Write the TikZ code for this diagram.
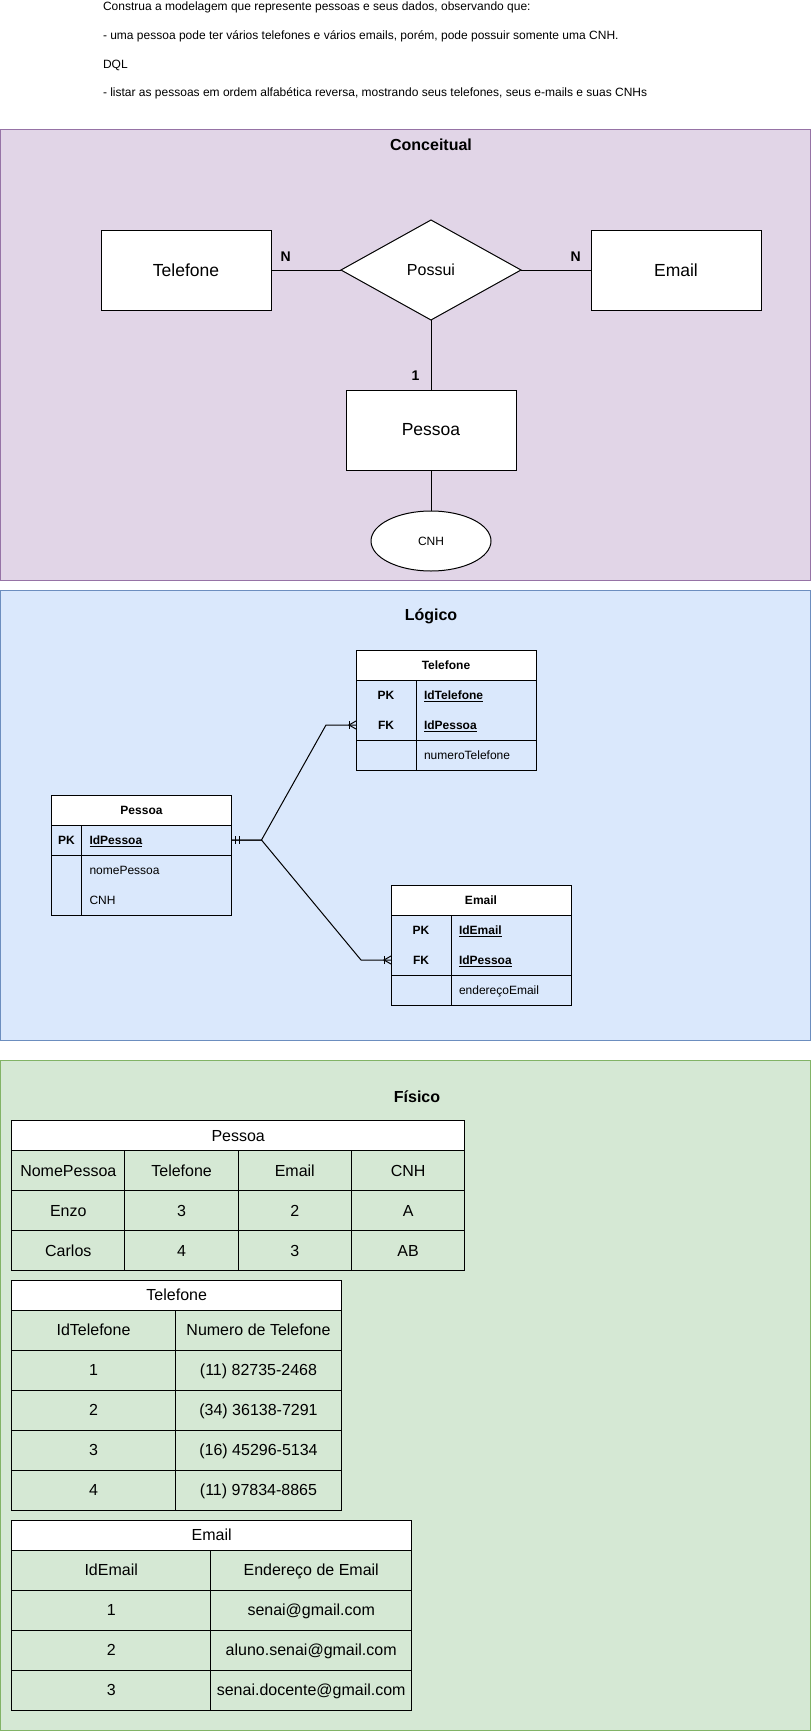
\documentclass[tikz,border=0pt]{standalone}
\usepackage{fontspec}
\setmainfont{Liberation Sans}
\usepackage{tikz}
\usetikzlibrary{calc,shapes.geometric}
\definecolor{concfill}{HTML}{E1D5E7}
\definecolor{concline}{HTML}{9673A6}
\definecolor{logfill}{HTML}{DAE8FC}
\definecolor{logline}{HTML}{6C8EBF}
\definecolor{fisfill}{HTML}{D5E8D4}
\definecolor{fisline}{HTML}{82B366}

\begin{document}
\begin{tikzpicture}[x=1pt, y=-1pt, line width=1pt,
    every node/.style={outer sep=0},
    small/.style={font=\fontsize{12}{14}\selectfont, text height=10.9pt, text depth=2.5pt},
    big/.style={font=\fontsize{16}{19}\selectfont, text height=14.5pt, text depth=3.4pt},
    box/.style={draw, fill=white, minimum width=170pt, minimum height=80pt, inner sep=0, font=\fontsize{17.5}{21}\selectfont},
    rel/.style={draw, fill=white, diamond, minimum width=180pt, minimum height=100pt, inner sep=0, font=\fontsize{16}{19}\selectfont},
    attr/.style={draw, fill=white, ellipse, minimum width=120pt, minimum height=60pt, inner sep=0, font=\fontsize{12}{14}\selectfont},
    card/.style={inner sep=0, font=\bfseries\fontsize{14}{16}\selectfont},
    title/.style={inner sep=0, font=\bfseries\fontsize{16}{19}\selectfont},
    note/.style={anchor=base west, inner sep=0, font=\fontsize{12}{14}\selectfont},
    area/.style={anchor=north west, minimum width=810pt, inner sep=0},
    lhead/.style={draw, fill=white, minimum width=180pt, minimum height=30pt, inner sep=0, small, font=\bfseries\fontsize{12}{14}\selectfont},
    lkey/.style={minimum width=#1, minimum height=30pt, inner sep=0, small, font=\bfseries\fontsize{12}{14}\selectfont},
    lfld/.style={text width=#1, minimum height=30pt, inner xsep=8pt, inner ysep=0, align=left, small},
    fhead/.style={draw, fill=white, minimum width=#1, minimum height=30pt, inner sep=0, big},
    fcell/.style={draw, minimum width=#1, minimum height=40pt, inner sep=0, big}]
    \useasboundingbox (0,0) rectangle (811,1731);

    % Statement of the exercise
    \node[note] (txt1) at (103,11) {Construa a modelagem que represente pessoas e seus dados, observando que:};
    \node[note] (txt2) at (103,39.7) {- uma pessoa pode ter vários telefones e vários emails, porém, pode possuir somente uma CNH.};
    \node[note] (txt3) at (103,68.3) {DQL};
    \node[note] (txt4) at (103,97) {- listar as pessoas em ordem alfabética reversa, mostrando seus telefones, seus e-mails e suas CNHs};

    % Conceptual model
    \node[area, draw=concline, fill=concfill, minimum height=450pt] (conc) at (0.5,130) {};
    \node[title] (tconc) at (431,145) {Conceitual};
    \node[box] (ctel) at (186,270) {Telefone};
    \node[rel] (cpossui) at (431,270) {Possui};
    \node[box] (cemail) at (676,270) {Email};
    \node[box] (cpes) at (431,430) {Pessoa};
    \node[attr] (ccnh) at (431,541) {CNH};
    \draw (ctel) -- (cpossui) node[card, pos=0.21, above=9pt] (ntel) {N};
    \draw (cpossui) -- (cemail) node[card, pos=0.78, above=9pt] (nemail) {N};
    \draw (cpossui) -- (cpes) node[card, pos=0.8, left=11.5pt] (npes) {1};
    \draw (cpes) -- (ccnh);

    % Logical model
    \node[area, draw=logline, fill=logfill, minimum height=450pt] (logi) at (0.5,590) {};
    \node[title] (tlog) at (431,616) {Lógico};

    % Pessoa table
    \node[lhead] (lpes) at (141.5,810) {Pessoa};
    \node[lkey=30pt, anchor=north west] (lpespkk) at (lpes.south west) {PK};
    \node[lfld=134pt, anchor=west] (lpespkf) at (lpespkk.east) {\textbf{\underline{IdPessoa}}};
    \node[lkey=30pt, anchor=north] (lpesnomk) at (lpespkk.south) {};
    \node[lfld=134pt, anchor=west] (lpesnomf) at (lpesnomk.east) {nomePessoa};
    \node[lkey=30pt, anchor=north] (lpescnhk) at (lpesnomk.south) {};
    \node[lfld=134pt, anchor=west] (lpescnhf) at (lpescnhk.east) {CNH};
    \draw (lpespkk.north west) rectangle (lpespkf.south east);
    \draw (lpesnomk.north west) rectangle (lpescnhf.south east);
    \draw (lpespkk.north east) -- (lpescnhk.south east);

    % Telefone table
    \node[lhead] (ltel) at (446,665) {Telefone};
    \node[lkey=60pt, anchor=north west] (ltelpkk) at (ltel.south west) {PK};
    \node[lfld=104pt, anchor=west] (ltelpkf) at (ltelpkk.east) {\textbf{\underline{IdTelefone}}};
    \node[lkey=60pt, anchor=north] (ltelfkk) at (ltelpkk.south) {FK};
    \node[lfld=104pt, anchor=west] (ltelfkf) at (ltelfkk.east) {\textbf{\underline{IdPessoa}}};
    \node[lkey=60pt, anchor=north] (ltelnumk) at (ltelfkk.south) {};
    \node[lfld=104pt, anchor=west] (ltelnumf) at (ltelnumk.east) {numeroTelefone};
    \draw (ltelpkk.north west) rectangle (ltelfkf.south east);
    \draw (ltelnumk.north west) rectangle (ltelnumf.south east);
    \draw (ltelpkk.north east) -- (ltelnumk.south east);

    % Email table
    \node[lhead] (lem) at (481,900) {Email};
    \node[lkey=60pt, anchor=north west] (lempkk) at (lem.south west) {PK};
    \node[lfld=104pt, anchor=west] (lempkf) at (lempkk.east) {\textbf{\underline{IdEmail}}};
    \node[lkey=60pt, anchor=north] (lemfkk) at (lempkk.south) {FK};
    \node[lfld=104pt, anchor=west] (lemfkf) at (lemfkk.east) {\textbf{\underline{IdPessoa}}};
    \node[lkey=60pt, anchor=north] (lemendk) at (lemfkk.south) {};
    \node[lfld=104pt, anchor=west] (lemendf) at (lemendk.east) {endereçoEmail};
    \draw (lempkk.north west) rectangle (lemfkf.south east);
    \draw (lemendk.north west) rectangle (lemendf.south east);
    \draw (lempkk.north east) -- (lemendk.south east);

    % Relationships with crow's foot ends
    \draw (lpespkf.east) -- ++(30,0) -- ($(ltelfkk.west)+(-30,0)$) -- (ltelfkk.west);
    \draw (lpespkf.east) -- ++(30,0) -- ($(lemfkk.west)+(-30,0)$) -- (lemfkk.west);
    \draw ($(lpespkf.east)+(4,-4)$) -- ++(0,8) ($(lpespkf.east)+(7.5,-4)$) -- ++(0,8);
    \draw ($(ltelfkk.west)+(-7,-4)$) -- ++(0,8);
    \draw ($(ltelfkk.west)+(0,-4)$) -- ($(ltelfkk.west)+(-7,0)$) -- ($(ltelfkk.west)+(0,4)$);
    \draw ($(lemfkk.west)+(-7,-4)$) -- ++(0,8);
    \draw ($(lemfkk.west)+(0,-4)$) -- ($(lemfkk.west)+(-7,0)$) -- ($(lemfkk.west)+(0,4)$);

    % Physical model
    \node[area, draw=fisline, fill=fisfill, minimum height=669.7pt] (fis) at (0.5,1060.3) {};
    \node[title] (tfis) at (417,1097) {Físico};

    % Pessoa data
    \node[fhead=453pt] (fpes) at (238.2,1135.7) {Pessoa};
    \node[fcell=113.25pt] (fpes11) at (68.3,1170.7) {NomePessoa};
    \node[fcell=113.25pt] (fpes12) at (181.6,1170.7) {Telefone};
    \node[fcell=113.25pt] (fpes13) at (294.8,1170.7) {Email};
    \node[fcell=113.25pt] (fpes14) at (408.1,1170.7) {CNH};
    \node[fcell=113.25pt] (fpes21) at (68.3,1210.7) {Enzo};
    \node[fcell=113.25pt] (fpes22) at (181.6,1210.7) {3};
    \node[fcell=113.25pt] (fpes23) at (294.8,1210.7) {2};
    \node[fcell=113.25pt] (fpes24) at (408.1,1210.7) {A};
    \node[fcell=113.25pt] (fpes31) at (68.3,1250.7) {Carlos};
    \node[fcell=113.25pt] (fpes32) at (181.6,1250.7) {4};
    \node[fcell=113.25pt] (fpes33) at (294.8,1250.7) {3};
    \node[fcell=113.25pt] (fpes34) at (408.1,1250.7) {AB};

    % Telefone data
    \node[fhead=330pt] (ftel) at (176.7,1295) {Telefone};
    \node[fcell=163.6pt] (ftel11) at (93.5,1330) {IdTelefone};
    \node[fcell=166.4pt] (ftel12) at (258.5,1330) {Numero de Telefone};
    \node[fcell=163.6pt] (ftel21) at (93.5,1370) {1};
    \node[fcell=166.4pt] (ftel22) at (258.5,1370) {(11) 82735-2468};
    \node[fcell=163.6pt] (ftel31) at (93.5,1410) {2};
    \node[fcell=166.4pt] (ftel32) at (258.5,1410) {(34) 36138-7291};
    \node[fcell=163.6pt] (ftel41) at (93.5,1450) {3};
    \node[fcell=166.4pt] (ftel42) at (258.5,1450) {(16) 45296-5134};
    \node[fcell=163.6pt] (ftel51) at (93.5,1490) {4};
    \node[fcell=166.4pt] (ftel52) at (258.5,1490) {(11) 97834-8865};

    % Email data
    \node[fhead=400pt] (fem) at (211.7,1535) {Email};
    \node[fcell=199pt] (fem11) at (111.2,1570) {IdEmail};
    \node[fcell=201pt] (fem12) at (311.2,1570) {Endereço de Email};
    \node[fcell=199pt] (fem21) at (111.2,1610) {1};
    \node[fcell=201pt] (fem22) at (311.2,1610) {senai@gmail.com};
    \node[fcell=199pt] (fem31) at (111.2,1650) {2};
    \node[fcell=201pt] (fem32) at (311.2,1650) {aluno.senai@gmail.com};
    \node[fcell=199pt] (fem41) at (111.2,1690) {3};
    \node[fcell=201pt] (fem42) at (311.2,1690) {senai.docente@gmail.com};
\end{tikzpicture}
\end{document}
